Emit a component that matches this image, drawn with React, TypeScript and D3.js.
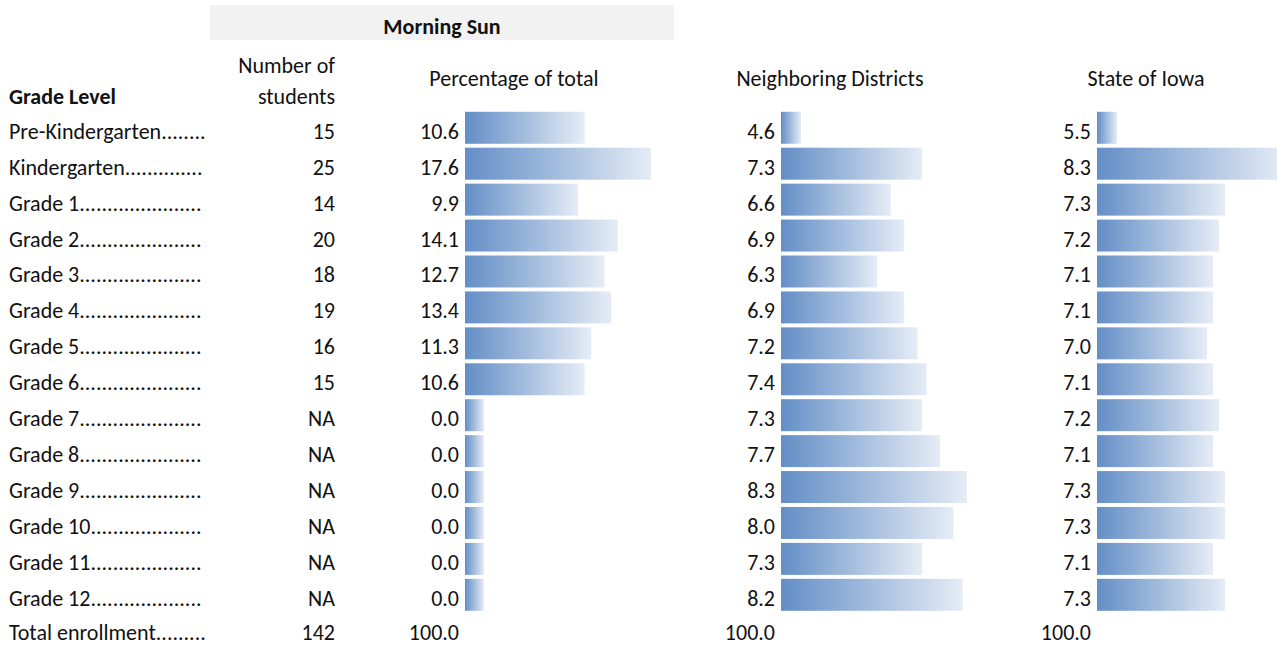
import React, { useEffect, useRef } from 'react';
import * as d3 from 'd3';

const grades = [
  'Pre-Kindergarten', 'Kindergarten', 'Grade 1', 'Grade 2', 'Grade 3', 'Grade 4', 'Grade 5',
  'Grade 6', 'Grade 7', 'Grade 8', 'Grade 9', 'Grade 10', 'Grade 11', 'Grade 12',
];
const students: (number | null)[] = [15, 25, 14, 20, 18, 19, 16, 15, null, null, null, null, null, null];
const pctOfTotal = [10.6, 17.6, 9.9, 14.1, 12.7, 13.4, 11.3, 10.6, 0.0, 0.0, 0.0, 0.0, 0.0, 0.0];
const neighboring = [4.6, 7.3, 6.6, 6.9, 6.3, 6.9, 7.2, 7.4, 7.3, 7.7, 8.3, 8.0, 7.3, 8.2];
const stateIowa = [5.5, 8.3, 7.3, 7.2, 7.1, 7.1, 7.0, 7.1, 7.2, 7.1, 7.3, 7.3, 7.1, 7.3];
const totalStudents = 142;
const totalPct = [100.0, 100.0, 100.0];

const WIDTH = 1277;
const HEIGHT = 646;
const FONT = 'Carlito, Calibri, Lato, sans-serif';

export default function App() {
  const svgRef = useRef<SVGSVGElement>(null);

  useEffect(() => {
    if (!svgRef.current) return;
    const svg = d3.select(svgRef.current);
    svg.selectAll('*').remove();

    const defs = svg.append('defs');
    const grad = defs.append('linearGradient').attr('id', 'barGrad')
      .attr('x1', '0%').attr('x2', '100%').attr('y1', '0%').attr('y2', '0%');
    grad.append('stop').attr('offset', '0%').attr('stop-color', '#638ec6');
    grad.append('stop').attr('offset', '100%').attr('stop-color', '#e5ecf6');

    const fontSize = 22;

    // Rows
    const y = d3.scaleBand<string>()
      .domain(grades)
      .range([110, 110 + 35.9 * grades.length])
      .paddingInner(0.11)
      .paddingOuter(0.05);
    const baseline = (g: string) => (y(g) as number) + y.bandwidth() - 5;

    // Header band
    svg.append('rect').attr('x', 210).attr('y', 5).attr('width', 464).attr('height', 35)
      .attr('fill', '#f2f2f2');
    const text = (x: number, yy: number, s: string, anchor = 'start', bold = false) =>
      svg.append('text').attr('x', x).attr('y', yy).attr('text-anchor', anchor)
        .attr('font-family', FONT).attr('font-size', fontSize)
        .attr('font-weight', bold ? 'bold' : 'normal').attr('fill', '#111').text(s);

    text(442, 34, 'Morning Sun', 'middle', true);
    text(335, 73, 'Number of', 'end');
    text(335, 104, 'students', 'end');
    text(9, 104, 'Grade Level', 'start', true);
    text(514, 86, 'Percentage of total', 'middle');
    text(830, 86, 'Neighboring Districts', 'middle');
    text(1146, 86, 'State of Iowa', 'middle');

    // Grade labels with dot leaders
    const labelRight = 205;
    const addLabel = (name: string, yy: number) => {
      const t = text(9, yy, name);
      const node = t.node() as SVGTextElement;
      let s = name;
      while (node.getComputedTextLength() < labelRight - 9 - 4) {
        s += '.';
        t.text(s);
      }
    };
    grades.forEach(g => addLabel(g, baseline(g)));

    grades.forEach((g, i) => {
      const v = students[i];
      text(335, baseline(g), v === null ? 'NA' : String(v), 'end');
    });

    const columns = [
      { data: pctOfTotal, x0: 465, domain: [0, 17.6], range: [19, 186], labelX: 459 },
      { data: neighboring, x0: 781, domain: [4.6, 8.3], range: [20, 186], labelX: 775 },
      { data: stateIowa, x0: 1097, domain: [5.5, 8.3], range: [20, 188], labelX: 1091 },
    ];

    columns.forEach(col => {
      const w = d3.scaleLinear().domain(col.domain).range(col.range);
      svg.append('g').selectAll('rect').data(col.data).join('rect')
        .attr('x', col.x0)
        .attr('y', (_, i) => y(grades[i]) as number)
        .attr('width', d => w(d))
        .attr('height', y.bandwidth())
        .attr('fill', 'url(#barGrad)');
      col.data.forEach((d, i) => {
        text(col.labelX, baseline(grades[i]), d3.format('.1f')(d), 'end');
      });
    });

    // Total row
    const totalY = 640;
    addLabel('Total enrollment', totalY);
    text(335, totalY, String(totalStudents), 'end');
    columns.forEach((col, i) => text(col.labelX, totalY, d3.format('.1f')(totalPct[i]), 'end'));
  }, []);

  return (
    <div style={{ position: 'absolute', left: 0, top: 0, background: '#fff' }}>
      <svg ref={svgRef} width={WIDTH} height={HEIGHT} style={{ display: 'block' }} />
    </div>
  );
}
